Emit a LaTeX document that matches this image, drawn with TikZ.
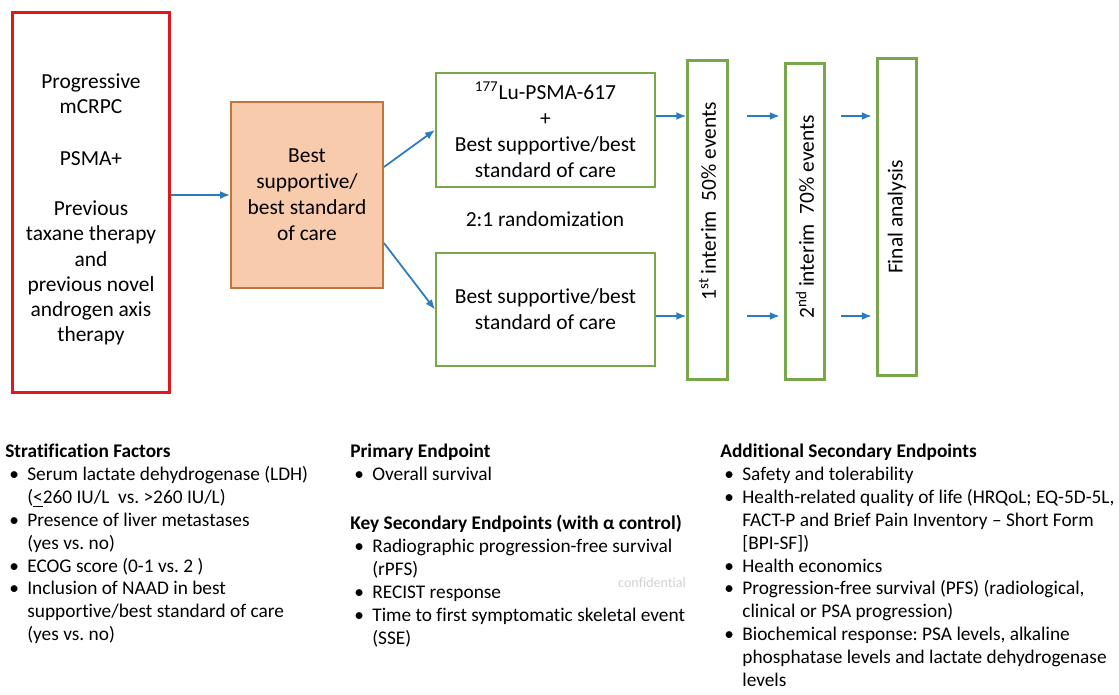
\documentclass[tikz,border=0pt]{standalone}
\usepackage{fontspec}
\setmainfont{Carlito}[Ligatures=NoCommon]
\frenchspacing
\usetikzlibrary{arrows.meta,calc}
\definecolor{redline}{HTML}{E2161B}
\definecolor{greenline}{HTML}{77A64B}
\definecolor{peach}{HTML}{F8CBAD}
\definecolor{peachline}{HTML}{C5723C}
\definecolor{arrowblue}{HTML}{2B7BC0}
\newcommand{\itm}{\hspace*{0.08cm}\makebox[0.36cm][l]{\textbullet}}
\newcommand{\cont}{\hspace*{0.44cm}}

\begin{document}
\begin{tikzpicture}[x=0.02cm,y=-0.02cm,>={Latex[length=2mm,width=1.6mm]},
  boxfont/.style={font=\fontsize{12.2}{14.8}\selectfont},
  box/.style={draw,boxfont,align=center,inner sep=2pt},
  arm/.style={box,draw=greenline,line width=1.2pt,minimum width=4.38cm,minimum height=2.27cm},
  stage/.style={box,draw=greenline,line width=1.7pt,rotate=90,minimum height=0.79cm},
  flow/.style={->,draw=arrowblue,line width=1pt},
  listtext/.style={anchor=north west,inner sep=0pt,align=left,font=\fontsize{11}{13}\selectfont}]
\useasboundingbox (0,0) rectangle (1119,694);
% study scheme
\node[box,draw=redline,line width=1.7pt,minimum width=3.16cm,minimum height=7.62cm,
  font=\fontsize{12.2}{14.4}\selectfont] (pop) at (91,202.5)
  {\rule{0pt}{16.5pt}Progressive\\mCRPC\\[15pt]PSMA+\\[14pt]Previous\\taxane therapy\\and\\previous novel\\androgen axis\\therapy};
\node[box,draw=peachline,fill=peach,line width=1.1pt,minimum width=3.04cm,minimum height=3.72cm] (bsc) at (307,195)
  {Best\\supportive/\\best standard\\of care};
\node[arm] (armA) at (545.5,130) {\textsuperscript{177}Lu-PSMA-617\\+\\Best supportive/best\\standard of care};
\node[arm] (armB) at (545.5,309.5) {Best supportive/best\\standard of care};
\node[boxfont] (rand) at (545,219) {2:1 randomization};
\node[stage,minimum width=6.4cm] (int1) at (707.5,220) {\hspace*{0.76cm}1\textsuperscript{st}\,interim\ \ 50\% events};
\node[stage,minimum width=6.34cm] (int2) at (805,221.5) {\hspace*{0.2cm}2\textsuperscript{nd}\,interim\ \ 70\% events};
\node[stage,minimum width=6.36cm] (final) at (897,217) {Final analysis};
\coordinate (rowA) at (0,116);
\coordinate (rowB) at (0,316);
\draw[flow] (bsc.west -| pop.east) -- (bsc.west);
\draw[flow] ($(bsc.east)+(0,-28)$) -- (armA.west);
\draw[flow] ($(bsc.east)+(0,48)$) -- (armB.west);
\draw[flow] (armA.east |- rowA) -- (int1.north |- rowA);
\draw[flow] (armB.east |- rowB) -- (int1.north |- rowB);
\draw[flow] ($(int1.south |- rowA)+(18,0)$) -- ($(int2.north |- rowA)+(-4,0)$);
\draw[flow] ($(int1.south |- rowB)+(18,0)$) -- ($(int2.north |- rowB)+(-4,0)$);
\draw[flow] ($(int2.south |- rowA)+(15,0)$) -- ($(final.north |- rowA)+(-4,0)$);
\draw[flow] ($(int2.south |- rowB)+(15,0)$) -- ($(final.north |- rowB)+(-4,0)$);
% endpoints and factors
\node[listtext] (strat) at (5,444) {\textbf{Stratification Factors}\\
  \itm Serum lactate dehydrogenase (LDH)\\
  \cont(\underline{<}260 IU/L\ \ vs. >260 IU/L)\\
  \itm Presence of liver metastases\\
  \cont(yes vs. no)\\
  \itm ECOG score (0-1 vs. 2 )\\
  \itm Inclusion of NAAD in best\\
  \cont supportive/best standard of care\\
  \cont(yes vs. no)};
\node[listtext] (primary) at (350,444) {\textbf{Primary Endpoint}\\
  \itm Overall survival\\[15pt]
  \textbf{Key Secondary Endpoints (with α control)}\\
  \itm Radiographic progression-free survival\\
  \cont(rPFS)\\
  \itm RECIST response\\
  \itm Time to first symptomatic skeletal event\\
  \cont(SSE)};
\node[listtext] (additional) at (720,444) {\textbf{Additional Secondary Endpoints}\\
  \itm Safety and tolerability\\
  \itm Health-related quality of life (HRQoL; EQ-5D-5L,\\
  \cont FACT-P and Brief Pain Inventory -- Short Form\\
  \cont[BPI-SF])\\
  \itm Health economics\\
  \itm Progression-free survival (PFS) (radiological,\\
  \cont clinical or PSA progression)\\
  \itm Biochemical response: PSA levels, alkaline\\
  \cont phosphatase levels and lactate dehydrogenase\\
  \cont levels};
\node[font=\fontsize{8}{9}\selectfont,text=black!18] (mark) at (652,583) {confidential};
\end{tikzpicture}
\end{document}
